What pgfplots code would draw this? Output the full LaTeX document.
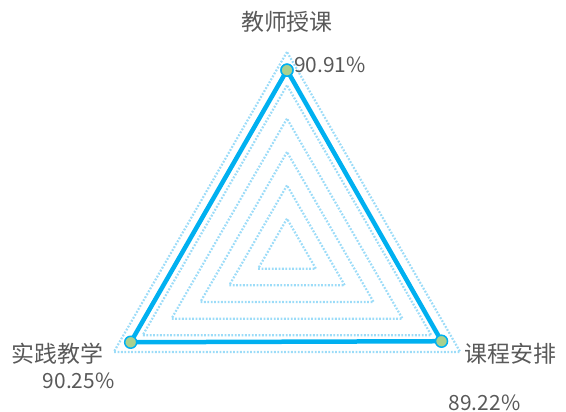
\documentclass[border=0pt]{standalone}
\usepackage{pgfplots}
\pgfplotsset{compat=1.18}
\usepgfplotslibrary{polar}
\usepackage{fontspec}
\setmainfont{Noto Sans CJK SC}
\definecolor{serie}{HTML}{00B0F0}
\definecolor{dot}{HTML}{9CDCF8}
\definecolor{mk}{HTML}{A9D18E}
\definecolor{txt}{HTML}{595959}

\begin{document}
\begin{tikzpicture}
\begin{polaraxis}[
    hide axis,
    scale only axis,
    width=400bp, height=400bp,
    ymin=0, ymax=100,
    clip=false,
    every axis plot/.append style={line join=round},
    gridline/.style={dot, line width=2.2bp, dash pattern=on 1.8bp off 1.6bp, mark=none},
    ]
% dotted web (6 rings)
\addplot[gridline] coordinates {(90,16.667)(210,16.667)(330,16.667)(90,16.667)};
\addplot[gridline] coordinates {(90,33.333)(210,33.333)(330,33.333)(90,33.333)};
\addplot[gridline] coordinates {(90,50)(210,50)(330,50)(90,50)};
\addplot[gridline] coordinates {(90,66.667)(210,66.667)(330,66.667)(90,66.667)};
\addplot[gridline] coordinates {(90,83.333)(210,83.333)(330,83.333)(90,83.333)};
\addplot[gridline] coordinates {(90,100)(210,100)(330,100)(90,100)};

% data
\addplot[serie, line width=4.5bp, mark=*, mark size=6bp,
    mark options={fill=mk, draw=serie, line width=1.5bp}]
    coordinates {(90,90.91)(330,89.22)(210,90.25)(90,90.91)};

\coordinate (c) at (axis cs:0,0);
\begin{scope}[text=txt]
\begin{scope}[font=\fontsize{23}{26}\selectfont]
\node[yshift=48bp] at (axis cs:90,90.91) {教师授课};
\node[xshift=69bp, yshift=-13bp] at (axis cs:330,89.22) {课程安排};
\node[xshift=-73bp, yshift=-11bp] at (axis cs:210,90.25) {实践教学};
\end{scope}
\begin{scope}[font=\fontsize{21}{24}\selectfont]
\node[xshift=43bp, yshift=5bp] at (axis cs:90,90.91) {90.91\%};
\node[xshift=43bp, yshift=-62bp] at (axis cs:330,89.22) {89.22\%};
\node[xshift=-52bp, yshift=-39bp] at (axis cs:210,90.25) {90.25\%};
\end{scope}
\end{scope}
\end{polaraxis}
\pgfresetboundingbox
\path[use as bounding box] (c) ++(-287bp,-160bp) rectangle ++(566bp,412bp);
\end{tikzpicture}
\end{document}
